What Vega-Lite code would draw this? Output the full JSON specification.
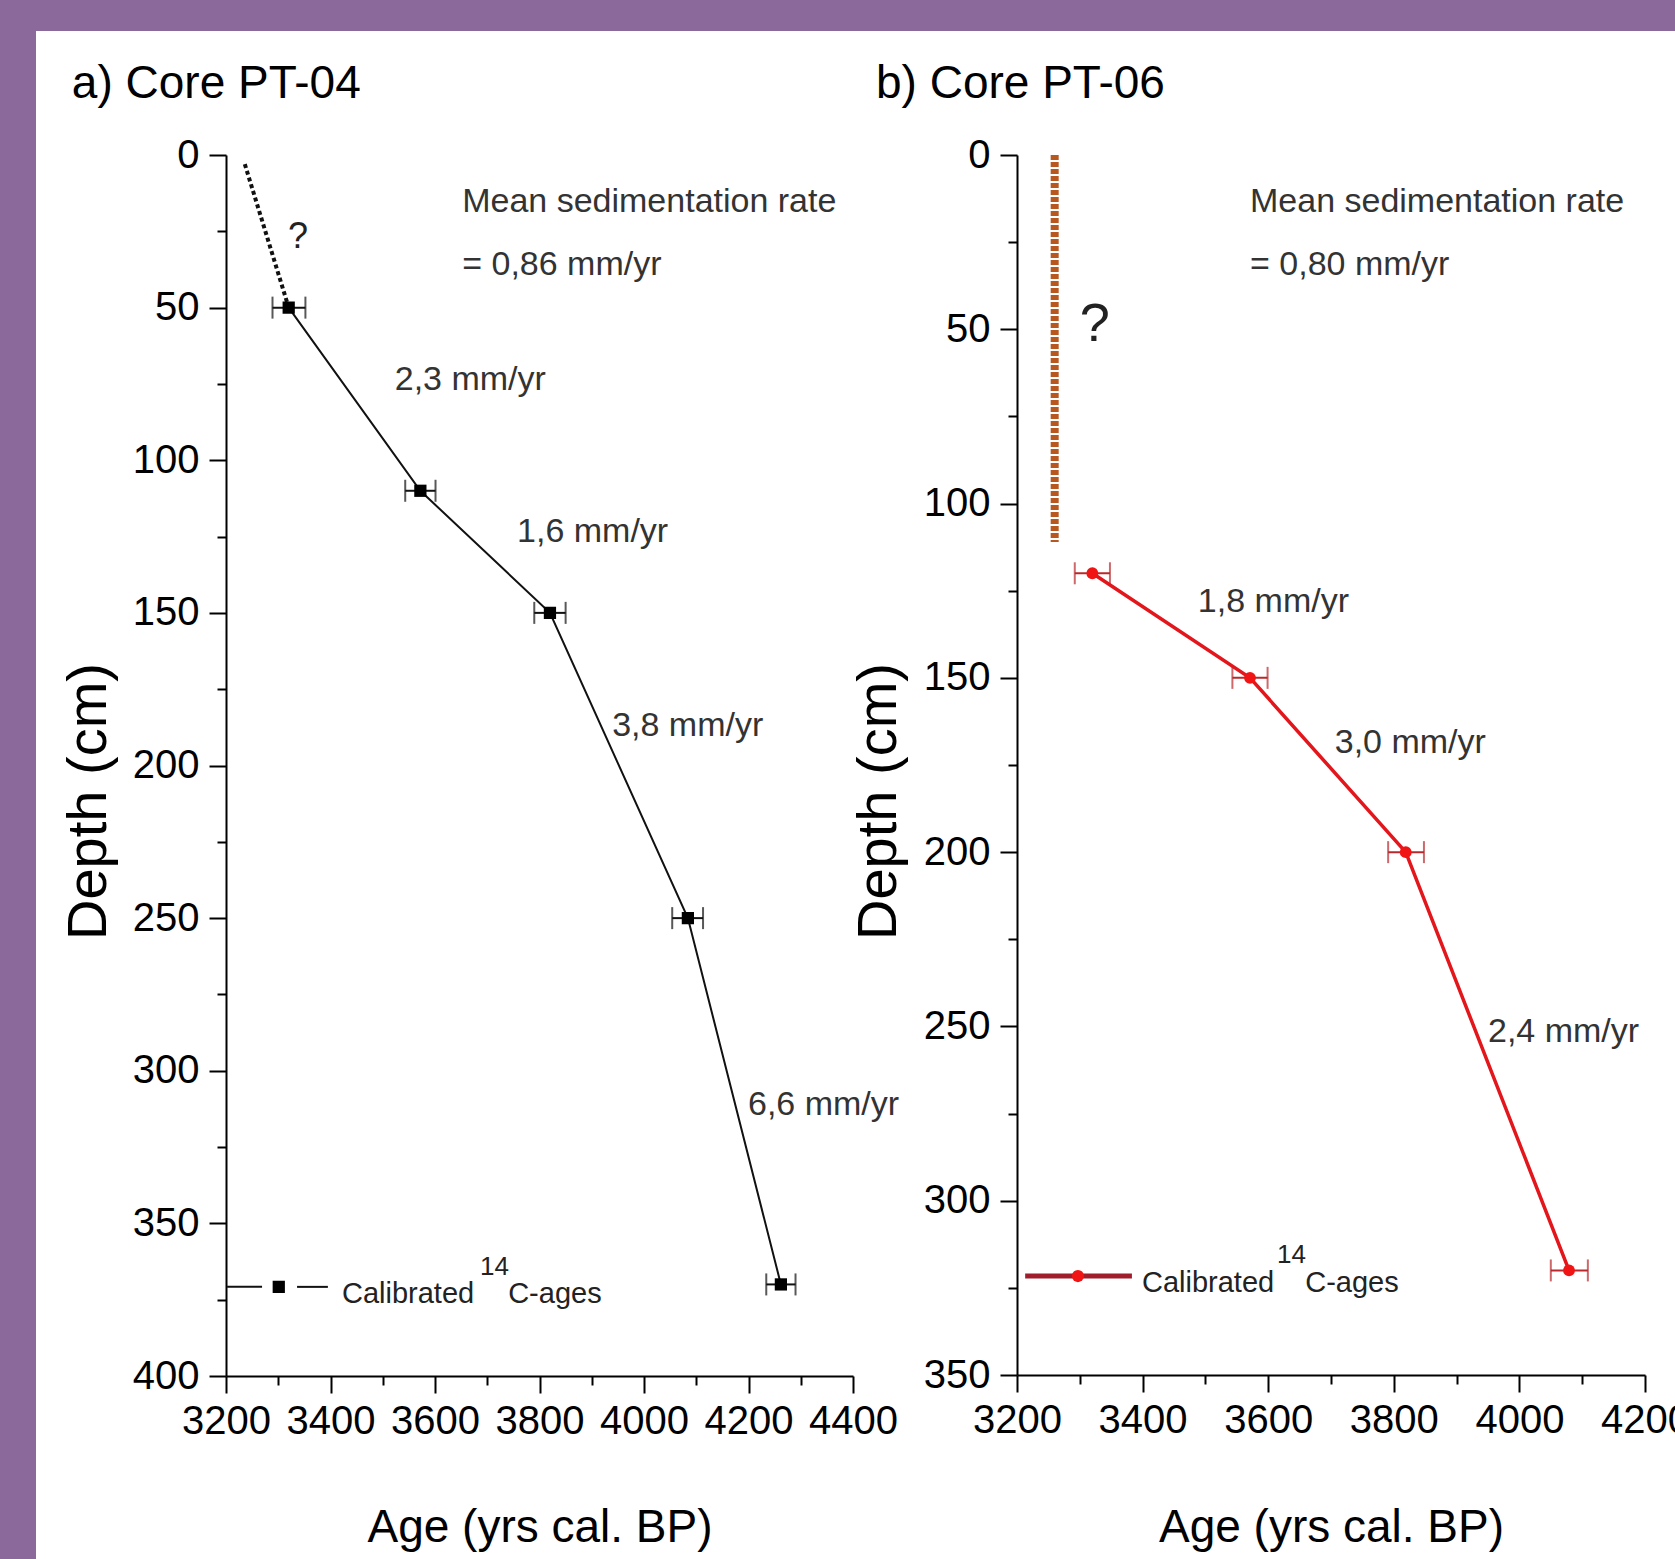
{
  "$schema": "https://vega.github.io/schema/vega-lite/v6.json",
  "width": 1639,
  "height": 1528,
  "autosize": {"type": "none"},
  "padding": {"left": 36, "top": 31, "right": 0, "bottom": 0},
  "background": "#8b6a9b",
  "config": {
    "view": {"fill": "white", "stroke": null},
    "axis": {
      "domainColor": "#000", "domainWidth": 2, "tickColor": "#000", "tickWidth": 2, "tickSize": 17,
      "labelFont": "Liberation Sans", "labelFontSize": 40, "labelColor": "#000", "format": "d",
      "labelFlush": false, "labelOverlap": false, "grid": false, "titleColor": "#000", "titleFontWeight": "normal"
    }
  },
  "datasets": {
    "a_points": [
      {"age": 3320, "depth": 50, "lo": 3289, "hi": 3352},
      {"age": 3572, "depth": 110, "lo": 3543, "hi": 3601},
      {"age": 3820, "depth": 150, "lo": 3790, "hi": 3850},
      {"age": 4084, "depth": 250, "lo": 4054, "hi": 4113},
      {"age": 4262, "depth": 370, "lo": 4234, "hi": 4290}
    ],
    "a_dotted": [
      {"age": 3236, "depth": 3},
      {"age": 3320, "depth": 50}
    ],
    "a_rates": [
      {"age": 3652, "depth": 18.7, "text": "Mean sedimentation rate"},
      {"age": 3652, "depth": 39.3, "text": "= 0,86  mm/yr"},
      {"age": 3523, "depth": 77, "text": "2,3 mm/yr"},
      {"age": 3757, "depth": 126.8, "text": "1,6 mm/yr"},
      {"age": 3939, "depth": 190.3, "text": "3,8 mm/yr"},
      {"age": 4199, "depth": 314.5, "text": "6,6 mm/yr"}
    ],
    "a_q": [{"age": 3338, "depth": 26.9, "text": "?"}],
    "a_title": [{"age": 2905, "depth": -18.7, "text": "a) Core PT-04"}],
    "a_leg_line": [
      {"age": 3202, "age2": 3269, "depth": 370.8},
      {"age": 3336, "age2": 3395, "depth": 370.8}
    ],
    "a_leg_pt": [{"age": 3301, "depth": 370.8}],
    "a_leg_text": [
      {"age": 3422, "depth": 376, "text": "Calibrated"},
      {"age": 3740, "depth": 376, "text": "C-ages"}
    ],
    "a_leg_sup": [{"age": 3686, "depth": 367, "text": "14"}],
    "b_points": [
      {"age": 3320, "depth": 120, "lo": 3292, "hi": 3348},
      {"age": 3571, "depth": 150, "lo": 3543, "hi": 3599},
      {"age": 3819, "depth": 200, "lo": 3791, "hi": 3848},
      {"age": 4079, "depth": 320, "lo": 4050, "hi": 4109}
    ],
    "b_dotted": [{"age": 3260, "top": 0, "bottom": 111}],
    "b_rates": [
      {"age": 3571, "depth": 16.4, "text": "Mean sedimentation rate"},
      {"age": 3571, "depth": 34.4, "text": "= 0,80  mm/yr"},
      {"age": 3488, "depth": 131, "text": "1,8 mm/yr"},
      {"age": 3706, "depth": 171.5, "text": "3,0 mm/yr"},
      {"age": 3950, "depth": 254.4, "text": "2,4 mm/yr"}
    ],
    "b_q": [{"age": 3324, "depth": 48.8, "text": "?"}],
    "b_title": [{"age": 2975.5, "depth": -16.4, "text": "b) Core PT-06"}],
    "b_leg_line": [{"age": 3213, "age2": 3383, "depth": 321.6}],
    "b_leg_pt": [{"age": 3297, "depth": 321.6}],
    "b_leg_text": [
      {"age": 3399, "depth": 326.2, "text": "Calibrated"},
      {"age": 3659, "depth": 326.2, "text": "C-ages"}
    ],
    "b_leg_sup": [{"age": 3614, "depth": 317.8, "text": "14"}]
  },
  "layer": [
    {
      "layer": [
        {
          "data": {"name": "a_dotted"},
          "mark": {"type": "line", "color": "#111", "strokeWidth": 4, "strokeDash": [4, 3]},
          "encoding": {
            "x": {"field": "age", "type": "quantitative",
              "scale": {"domain": [3200, 4400], "range": [190, 817], "nice": false, "zero": false}, "axis": null},
            "y": {"field": "depth", "type": "quantitative",
              "scale": {"domain": [0, 400], "range": [124, 1345], "nice": false, "zero": false}, "axis": null}
          }
        },
        {
          "data": {"name": "a_points"},
          "mark": {"type": "line", "color": "#111", "strokeWidth": 2},
          "encoding": {
            "x": {"field": "age", "type": "quantitative", "axis": null},
            "y": {"field": "depth", "type": "quantitative", "axis": null},
            "order": {"field": "depth"}
          }
        },
        {
          "data": {"name": "a_points"},
          "mark": {"type": "rule", "color": "#111", "strokeWidth": 2},
          "encoding": {
            "x": {"field": "lo", "type": "quantitative", "axis": null},
            "x2": {"field": "hi"},
            "y": {"field": "depth", "type": "quantitative", "axis": null}
          }
        },
        {
          "data": {"name": "a_points"},
          "mark": {"type": "tick", "orient": "vertical", "color": "#111", "size": 22, "thickness": 2},
          "encoding": {
            "x": {"field": "lo", "type": "quantitative", "axis": null},
            "y": {"field": "depth", "type": "quantitative", "axis": null}
          }
        },
        {
          "data": {"name": "a_points"},
          "mark": {"type": "tick", "orient": "vertical", "color": "#111", "size": 22, "thickness": 2},
          "encoding": {
            "x": {"field": "hi", "type": "quantitative", "axis": null},
            "y": {"field": "depth", "type": "quantitative", "axis": null}
          }
        },
        {
          "data": {"name": "a_points"},
          "mark": {"type": "point", "shape": "square", "filled": true, "color": "#000", "size": 150, "opacity": 1},
          "encoding": {
            "x": {"field": "age", "type": "quantitative", "axis": null},
            "y": {"field": "depth", "type": "quantitative", "axis": null}
          }
        },
        {
          "data": {"name": "a_rates"},
          "mark": {"type": "text", "font": "Liberation Sans", "fontSize": 34, "color": "#333", "align": "left", "baseline": "alphabetic"},
          "encoding": {
            "x": {"field": "age", "type": "quantitative", "axis": null},
            "y": {"field": "depth", "type": "quantitative", "axis": null},
            "text": {"field": "text"}
          }
        },
        {
          "data": {"name": "a_q"},
          "mark": {"type": "text", "font": "Liberation Sans", "fontSize": 36, "color": "#222", "align": "center", "baseline": "middle"},
          "encoding": {
            "x": {"field": "age", "type": "quantitative", "axis": null},
            "y": {"field": "depth", "type": "quantitative", "axis": null},
            "text": {"field": "text"}
          }
        },
        {
          "data": {"name": "a_title"},
          "mark": {"type": "text", "font": "Liberation Sans", "fontSize": 46, "color": "#000", "align": "left", "baseline": "alphabetic"},
          "encoding": {
            "x": {"field": "age", "type": "quantitative", "axis": null},
            "y": {"field": "depth", "type": "quantitative", "axis": null},
            "text": {"field": "text"}
          }
        },
        {
          "data": {"name": "a_leg_line"},
          "mark": {"type": "rule", "color": "#111", "strokeWidth": 2},
          "encoding": {
            "x": {"field": "age", "type": "quantitative", "axis": null},
            "x2": {"field": "age2"},
            "y": {"field": "depth", "type": "quantitative", "axis": null}
          }
        },
        {
          "data": {"name": "a_leg_pt"},
          "mark": {"type": "point", "shape": "square", "filled": true, "color": "#000", "size": 150, "opacity": 1},
          "encoding": {
            "x": {"field": "age", "type": "quantitative", "axis": null},
            "y": {"field": "depth", "type": "quantitative", "axis": null}
          }
        },
        {
          "data": {"name": "a_leg_text"},
          "mark": {"type": "text", "font": "Liberation Sans", "fontSize": 29, "color": "#222", "align": "left", "baseline": "alphabetic"},
          "encoding": {
            "x": {"field": "age", "type": "quantitative", "axis": null},
            "y": {"field": "depth", "type": "quantitative", "axis": null},
            "text": {"field": "text"}
          }
        },
        {
          "data": {"name": "a_leg_sup"},
          "mark": {"type": "text", "font": "Liberation Sans", "fontSize": 26, "color": "#222", "align": "left", "baseline": "alphabetic"},
          "encoding": {
            "x": {"field": "age", "type": "quantitative", "axis": null},
            "y": {"field": "depth", "type": "quantitative", "axis": null},
            "text": {"field": "text"}
          }
        }
      ]
    },
    {
      "mark": {"type": "point", "opacity": 0},
      "encoding": {
        "x": {"datum": 3200, "type": "quantitative",
          "scale": {"domain": [3200, 4400], "range": [190, 817], "nice": false, "zero": false},
          "axis": {"orient": "bottom", "offset": -183, "values": [3200, 3400, 3600, 3800, 4000, 4200, 4400],
            "title": "Age (yrs cal. BP)", "titleFont": "Liberation Sans", "titleFontSize": 46,
            "titleBaseline": "alphabetic", "titleY": 165, "labelPadding": 8}},
        "y": {"datum": 0, "type": "quantitative",
          "scale": {"domain": [0, 400], "range": [124, 1345], "nice": false, "zero": false},
          "axis": {"orient": "left", "offset": -190, "values": [0, 50, 100, 150, 200, 250, 300, 350, 400],
            "title": "Depth (cm)", "titleFont": "Liberation Sans", "titleFontSize": 56,
            "titleX": -138, "titleY": 770, "titleAngle": 270, "titleBaseline": "middle", "labelPadding": 10}}
      }
    },
    {
      "mark": {"type": "point", "opacity": 0},
      "encoding": {
        "x": {"datum": 3300, "type": "quantitative",
          "scale": {"domain": [3200, 4400], "range": [190, 817], "nice": false, "zero": false},
          "axis": {"orient": "bottom", "offset": -183, "values": [3300, 3500, 3700, 3900, 4100, 4300],
            "labels": false, "domain": false, "tickSize": 9, "title": null}},
        "y": {"datum": 25, "type": "quantitative",
          "scale": {"domain": [0, 400], "range": [124, 1345], "nice": false, "zero": false},
          "axis": {"orient": "left", "offset": -190, "values": [25, 75, 125, 175, 225, 275, 325, 375],
            "labels": false, "domain": false, "tickSize": 9, "title": null}}
      }
    },
    {
      "layer": [
        {
          "data": {"name": "b_dotted"},
          "mark": {"type": "rule", "color": "#b8581f", "strokeWidth": 8, "strokeDash": [5, 2]},
          "encoding": {
            "x": {"field": "age", "type": "quantitative",
              "scale": {"domain": [3200, 4200], "range": [981, 1609], "nice": false, "zero": false}, "axis": null},
            "y": {"field": "top", "type": "quantitative",
              "scale": {"domain": [0, 350], "range": [124, 1344], "nice": false, "zero": false}, "axis": null},
            "y2": {"field": "bottom"}
          }
        },
        {
          "data": {"name": "b_points"},
          "mark": {"type": "line", "color": "#e3161c", "strokeWidth": 3.5},
          "encoding": {
            "x": {"field": "age", "type": "quantitative", "axis": null},
            "y": {"field": "depth", "type": "quantitative", "axis": null},
            "order": {"field": "depth"}
          }
        },
        {
          "data": {"name": "b_points"},
          "mark": {"type": "rule", "color": "#b8282c", "strokeWidth": 2},
          "encoding": {
            "x": {"field": "lo", "type": "quantitative", "axis": null},
            "x2": {"field": "hi"},
            "y": {"field": "depth", "type": "quantitative", "axis": null}
          }
        },
        {
          "data": {"name": "b_points"},
          "mark": {"type": "tick", "orient": "vertical", "color": "#b8282c", "size": 22, "thickness": 2},
          "encoding": {
            "x": {"field": "lo", "type": "quantitative", "axis": null},
            "y": {"field": "depth", "type": "quantitative", "axis": null}
          }
        },
        {
          "data": {"name": "b_points"},
          "mark": {"type": "tick", "orient": "vertical", "color": "#b8282c", "size": 22, "thickness": 2},
          "encoding": {
            "x": {"field": "hi", "type": "quantitative", "axis": null},
            "y": {"field": "depth", "type": "quantitative", "axis": null}
          }
        },
        {
          "data": {"name": "b_points"},
          "mark": {"type": "point", "shape": "circle", "filled": true, "color": "#f01414", "size": 140, "opacity": 1},
          "encoding": {
            "x": {"field": "age", "type": "quantitative", "axis": null},
            "y": {"field": "depth", "type": "quantitative", "axis": null}
          }
        },
        {
          "data": {"name": "b_rates"},
          "mark": {"type": "text", "font": "Liberation Sans", "fontSize": 34, "color": "#333", "align": "left", "baseline": "alphabetic"},
          "encoding": {
            "x": {"field": "age", "type": "quantitative", "axis": null},
            "y": {"field": "depth", "type": "quantitative", "axis": null},
            "text": {"field": "text"}
          }
        },
        {
          "data": {"name": "b_q"},
          "mark": {"type": "text", "font": "Liberation Sans", "fontSize": 54, "color": "#222", "align": "center", "baseline": "middle"},
          "encoding": {
            "x": {"field": "age", "type": "quantitative", "axis": null},
            "y": {"field": "depth", "type": "quantitative", "axis": null},
            "text": {"field": "text"}
          }
        },
        {
          "data": {"name": "b_title"},
          "mark": {"type": "text", "font": "Liberation Sans", "fontSize": 46, "color": "#000", "align": "left", "baseline": "alphabetic"},
          "encoding": {
            "x": {"field": "age", "type": "quantitative", "axis": null},
            "y": {"field": "depth", "type": "quantitative", "axis": null},
            "text": {"field": "text"}
          }
        },
        {
          "data": {"name": "b_leg_line"},
          "mark": {"type": "rule", "color": "#a01e2c", "strokeWidth": 5},
          "encoding": {
            "x": {"field": "age", "type": "quantitative", "axis": null},
            "x2": {"field": "age2"},
            "y": {"field": "depth", "type": "quantitative", "axis": null}
          }
        },
        {
          "data": {"name": "b_leg_pt"},
          "mark": {"type": "point", "shape": "circle", "filled": true, "color": "#f01414", "size": 150, "opacity": 1},
          "encoding": {
            "x": {"field": "age", "type": "quantitative", "axis": null},
            "y": {"field": "depth", "type": "quantitative", "axis": null}
          }
        },
        {
          "data": {"name": "b_leg_text"},
          "mark": {"type": "text", "font": "Liberation Sans", "fontSize": 29, "color": "#222", "align": "left", "baseline": "alphabetic"},
          "encoding": {
            "x": {"field": "age", "type": "quantitative", "axis": null},
            "y": {"field": "depth", "type": "quantitative", "axis": null},
            "text": {"field": "text"}
          }
        },
        {
          "data": {"name": "b_leg_sup"},
          "mark": {"type": "text", "font": "Liberation Sans", "fontSize": 26, "color": "#222", "align": "left", "baseline": "alphabetic"},
          "encoding": {
            "x": {"field": "age", "type": "quantitative", "axis": null},
            "y": {"field": "depth", "type": "quantitative", "axis": null},
            "text": {"field": "text"}
          }
        }
      ]
    },
    {
      "mark": {"type": "point", "opacity": 0},
      "encoding": {
        "x": {"datum": 3200, "type": "quantitative",
          "scale": {"domain": [3200, 4200], "range": [981, 1609], "nice": false, "zero": false},
          "axis": {"orient": "bottom", "offset": -184, "values": [3200, 3400, 3600, 3800, 4000, 4200],
            "title": "Age (yrs cal. BP)", "titleFont": "Liberation Sans", "titleFontSize": 46,
            "titleBaseline": "alphabetic", "titleY": 166, "labelPadding": 8}},
        "y": {"datum": 0, "type": "quantitative",
          "scale": {"domain": [0, 350], "range": [124, 1344], "nice": false, "zero": false},
          "axis": {"orient": "left", "offset": -981, "values": [0, 50, 100, 150, 200, 250, 300, 350],
            "title": "Depth (cm)", "titleFont": "Liberation Sans", "titleFontSize": 56,
            "titleX": -139, "titleY": 770, "titleAngle": 270, "titleBaseline": "middle", "labelPadding": 10}}
      }
    },
    {
      "mark": {"type": "point", "opacity": 0},
      "encoding": {
        "x": {"datum": 3300, "type": "quantitative",
          "scale": {"domain": [3200, 4200], "range": [981, 1609], "nice": false, "zero": false},
          "axis": {"orient": "bottom", "offset": -184, "values": [3300, 3500, 3700, 3900, 4100],
            "labels": false, "domain": false, "tickSize": 9, "title": null}},
        "y": {"datum": 25, "type": "quantitative",
          "scale": {"domain": [0, 350], "range": [124, 1344], "nice": false, "zero": false},
          "axis": {"orient": "left", "offset": -981, "values": [25, 75, 125, 175, 225, 275, 325],
            "labels": false, "domain": false, "tickSize": 9, "title": null}}
      }
    }
  ],
  "resolve": {
    "scale": {"x": "independent", "y": "independent"},
    "axis": {"x": "independent", "y": "independent"}
  }
}
